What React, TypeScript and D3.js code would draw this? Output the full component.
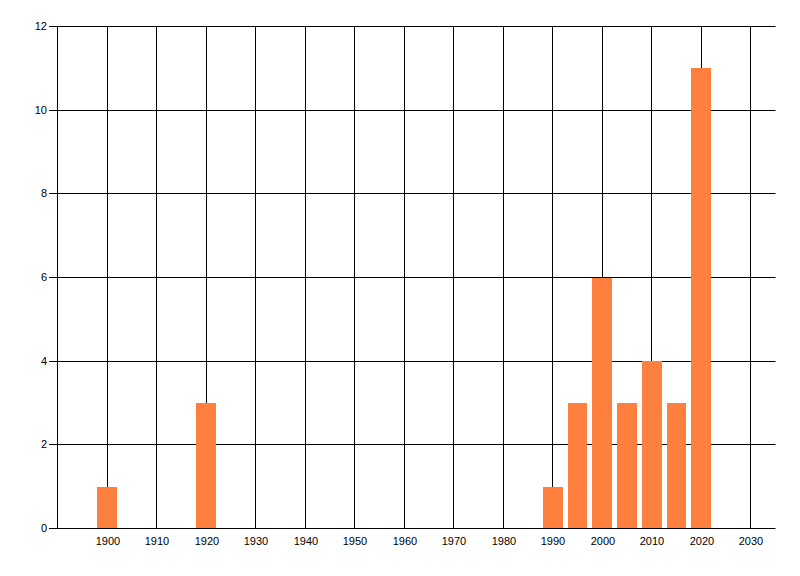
import { useEffect, useRef } from "react";
import * as d3 from "d3";

// bar data
const years = [1900, 1920, 1990, 1995, 2000, 2005, 2010, 2015, 2020];
const counts = [1, 3, 1, 3, 6, 3, 4, 3, 11];

const xTicks = [1900, 1910, 1920, 1930, 1940, 1950, 1960, 1970, 1980, 1990, 2000, 2010, 2020, 2030];
const yTicks = [0, 2, 4, 6, 8, 10, 12];

const width = 800;
const height = 576;

const App: React.FC = () => {
    const svgRef = useRef<SVGSVGElement | null>(null);

    useEffect(() => {
        if (!svgRef.current) return;
        const svg = d3.select(svgRef.current);
        svg.selectAll("*").remove();

        const x = d3.scaleLinear().domain([1890, 2035]).range([57.5, 775.5]);
        const y = d3.scaleLinear().domain([0, 12]).range([528.5, 26.5]);
        const crisp = (v: number) => Math.round(v - 0.5) + 0.5;

        const font = "'Liberation Sans', Arial, sans-serif";

        // vertical grid lines
        svg.append("g")
            .selectAll("line")
            .data(xTicks)
            .enter()
            .append("line")
            .attr("x1", d => crisp(x(d)))
            .attr("x2", d => crisp(x(d)))
            .attr("y1", y(12))
            .attr("y2", y(0))
            .attr("stroke", "#000")
            .attr("stroke-width", 1);

        // horizontal grid lines with tick stubs
        svg.append("g")
            .selectAll("line")
            .data(yTicks.filter(d => d > 0))
            .enter()
            .append("line")
            .attr("x1", 49)
            .attr("x2", x(2035))
            .attr("y1", d => crisp(y(d)))
            .attr("y2", d => crisp(y(d)))
            .attr("stroke", "#000")
            .attr("stroke-width", 1);

        // bars drawn over the grid
        svg.append("g")
            .selectAll("rect")
            .data(years.map((yr, i) => ({ yr, v: counts[i] })))
            .enter()
            .append("rect")
            .attr("x", d => Math.round(x(d.yr - 2)))
            .attr("y", d => Math.round(y(d.v)))
            .attr("width", d => Math.round(x(d.yr + 2)) - Math.round(x(d.yr - 2)))
            .attr("height", d => Math.round(y(0)) - Math.round(y(d.v)))
            .style("fill", "#ff7f3f");

        // axis lines
        svg.append("line")
            .attr("x1", 49)
            .attr("x2", x(2035))
            .attr("y1", crisp(y(0)))
            .attr("y2", crisp(y(0)))
            .attr("stroke", "#000");
        svg.append("line")
            .attr("x1", crisp(x(1890)))
            .attr("x2", crisp(x(1890)))
            .attr("y1", y(12))
            .attr("y2", y(0))
            .attr("stroke", "#000");

        // y labels
        svg.append("g")
            .selectAll("text")
            .data(yTicks)
            .enter()
            .append("text")
            .attr("x", 47)
            .attr("y", d => crisp(y(d)))
            .attr("dy", "0.36em")
            .attr("text-anchor", "end")
            .style("font-family", font)
            .style("font-size", "11px")
            .style("fill", "#000")
            .text(d => d);

        // x labels
        svg.append("g")
            .selectAll("text")
            .data(xTicks)
            .enter()
            .append("text")
            .attr("x", d => crisp(x(d)) + 0.5)
            .attr("y", 545)
            .attr("text-anchor", "middle")
            .style("font-family", font)
            .style("font-size", "11px")
            .style("fill", "#000")
            .text(d => d);
    }, []);

    return (
        <svg
            ref={svgRef}
            width={width}
            height={height}
            style={{ position: "absolute", left: 0, top: 0, background: "#fff" }}
        ></svg>
    );
};

export default App;
